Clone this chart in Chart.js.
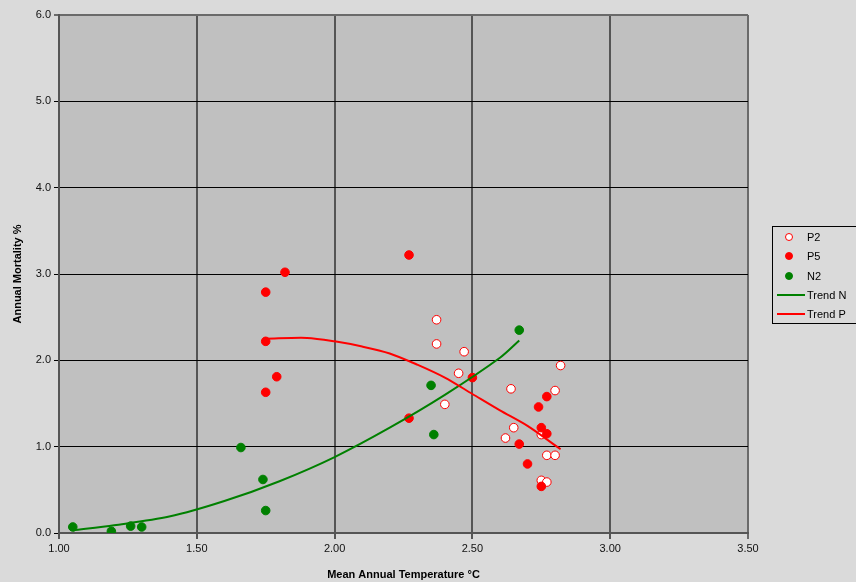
<!DOCTYPE html>
<html>
<head>
<meta charset="utf-8">
<script src="https://cdn.jsdelivr.net/npm/chart.js@4.4.1/dist/chart.umd.min.js"></script>
<style>
  body { margin: 0; background: #dadada; overflow: hidden; }
  #wrap { position: relative; width: 856px; height: 582px; }
  #legend {
    position: absolute; left: 772px; top: 226px; width: 100px; height: 96px;
    border: 1px solid #000; font: 11px "Liberation Sans", Arial, sans-serif; color: #000;
  }
  .item { position: absolute; left: 0; height: 14px; line-height: 14px; }
  .dot { position: absolute; left: 12px; top: 3px; width: 8px; height: 8px; border-radius: 50%; box-sizing: border-box; }
  .ln { position: absolute; left: 4px; top: 6px; width: 28px; height: 2px; }
  .lbl { position: absolute; left: 34px; top: 0; white-space: nowrap; }
</style>
</head>
<body>
<div id="wrap">
  <canvas id="chart" width="856" height="582"></canvas>
  <div id="legend"></div>
</div>
<script>
// — data —
const p2X = [2.37, 2.37, 2.47, 2.45, 2.40, 2.82, 2.64, 2.80, 2.65, 2.62, 2.75, 2.77, 2.80, 2.75, 2.77];
const p2Y = [2.47, 2.19, 2.10, 1.85, 1.49, 1.94, 1.67, 1.65, 1.22, 1.10, 1.14, 0.90, 0.90, 0.61, 0.59];

const p5X = [2.27, 1.82, 1.75, 1.75, 1.79, 1.75, 2.27, 2.50, 2.77, 2.74, 2.75, 2.77, 2.67, 2.70, 2.75];
const p5Y = [3.22, 3.02, 2.79, 2.22, 1.81, 1.63, 1.33, 1.80, 1.58, 1.46, 1.22, 1.15, 1.03, 0.80, 0.54];

const n2X = [1.05, 1.19, 1.26, 1.30, 1.66, 1.74, 1.75, 2.35, 2.36, 2.67];
const n2Y = [0.07, 0.02, 0.08, 0.07, 0.99, 0.62, 0.26, 1.71, 1.14, 2.35];

const trendNX = [1.05, 1.20, 1.40, 1.60, 1.80, 2.00, 2.20, 2.40, 2.60, 2.67];
const trendNY = [0.03, 0.09, 0.19, 0.37, 0.60, 0.88, 1.22, 1.60, 2.03, 2.23];

const trendPX = [1.75, 1.90, 2.00, 2.10, 2.20, 2.30, 2.40, 2.50, 2.60, 2.70, 2.82];
const trendPY = [2.25, 2.26, 2.22, 2.16, 2.08, 1.95, 1.80, 1.61, 1.42, 1.24, 0.97];

const xTicks = [1.0, 1.5, 2.0, 2.5, 3.0, 3.5];
const yTicks = [0, 1, 2, 3, 4, 5, 6];

const RED = '#ff0000';
const GREEN = '#008000';
const FONT = '"Liberation Sans", Arial, sans-serif';

const pts = (xs, ys) => xs.map((x, i) => ({ x: x, y: ys[i] }));

// — fondo del área de trazado —
const plotBg = {
  id: 'plotBg',
  beforeDraw(chart) {
    const { ctx, chartArea: a } = chart;
    ctx.save();
    ctx.fillStyle = '#c0c0c0';
    ctx.fillRect(a.left, a.top, a.right - a.left, a.bottom - a.top);
    ctx.restore();
  }
};

const datasets = [
  { label: 'P2', data: pts(p2X, p2Y), backgroundColor: '#ffffff', borderColor: RED,
    borderWidth: 1, pointRadius: 4.3, order: 4 },
  { label: 'P5', data: pts(p5X, p5Y), backgroundColor: RED, borderColor: RED,
    borderWidth: 1, pointRadius: 4.3, order: 3 },
  { label: 'N2', data: pts(n2X, n2Y), backgroundColor: GREEN, borderColor: GREEN,
    borderWidth: 1, pointRadius: 4.3, order: 2 },
  { label: 'Trend N', data: pts(trendNX, trendNY), showLine: true, borderColor: GREEN,
    borderWidth: 2, pointRadius: 0, tension: 0.3, order: 1 },
  { label: 'Trend P', data: pts(trendPX, trendPY), showLine: true, borderColor: RED,
    borderWidth: 2, pointRadius: 0, tension: 0.3, order: 0 }
];

new Chart(document.getElementById('chart'), {
  type: 'scatter',
  data: { datasets: datasets },
  plugins: [plotBg],
  options: {
    responsive: false,
    animation: false,
    layout: { padding: { top: 15, right: 108, left: 0, bottom: 0 } },
    plugins: { legend: { display: false }, tooltip: { enabled: false } },
    scales: {
      x: {
        type: 'linear', min: 1, max: 3.5,
        afterFit(scale) { scale.height = 49; },
        afterBuildTicks(scale) { scale.ticks = xTicks.map(v => ({ value: v })); },
        ticks: { color: '#111', padding: 3, font: { family: FONT, size: 11 },
          callback: v => v.toFixed(2) },
        grid: { color: ctx => ctx.tick && ctx.tick.value === 3.5 ? '#6a6a6a' : '#555555',
          lineWidth: 2, tickLength: 6 },
        border: { color: '#555555', width: 2 },
        title: { display: true, text: 'Mean Annual Temperature °C', color: '#000',
          font: { family: FONT, size: 11, weight: 'bold' }, padding: { top: 0, bottom: 0 } }
      },
      y: {
        type: 'linear', min: 0, max: 6,
        afterFit(scale) { scale.width = 59; },
        afterBuildTicks(scale) { scale.ticks = yTicks.map(v => ({ value: v })); },
        ticks: { color: '#111', padding: 3, font: { family: FONT, size: 11 },
          callback: v => v.toFixed(1) },
        grid: { color: ctx => ctx.tick && ctx.tick.value === 6 ? '#6a6a6a' : '#000000',
          lineWidth: ctx => ctx.tick && ctx.tick.value === 6 ? 2 : 1, tickLength: 5 },
        border: { color: '#555555', width: 2 },
        title: { display: true, text: 'Annual Mortality %', color: '#000',
          font: { family: FONT, size: 11, weight: 'bold' }, padding: { top: 11, bottom: 0 } }
      }
    }
  }
});

// — leyenda —
const legendItems = [
  { label: 'P2', kind: 'dot', fill: '#ffffff', stroke: RED },
  { label: 'P5', kind: 'dot', fill: RED, stroke: RED },
  { label: 'N2', kind: 'dot', fill: GREEN, stroke: GREEN },
  { label: 'Trend N', kind: 'line', stroke: GREEN },
  { label: 'Trend P', kind: 'line', stroke: RED }
];
const legendEl = document.getElementById('legend');
legendItems.forEach((it, i) => {
  const row = document.createElement('div');
  row.className = 'item';
  row.style.top = (3 + i * 19.3) + 'px';
  const mark = document.createElement('span');
  if (it.kind === 'dot') {
    mark.className = 'dot';
    mark.style.background = it.fill;
    mark.style.border = '1px solid ' + it.stroke;
  } else {
    mark.className = 'ln';
    mark.style.background = it.stroke;
  }
  const txt = document.createElement('span');
  txt.className = 'lbl';
  txt.textContent = it.label;
  row.appendChild(mark);
  row.appendChild(txt);
  legendEl.appendChild(row);
});
</script>
</body>
</html>
